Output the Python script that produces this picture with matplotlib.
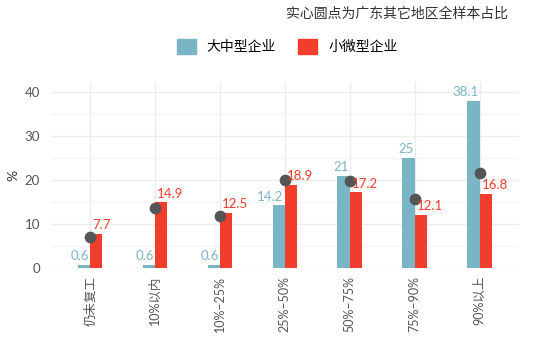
import matplotlib
matplotlib.use('Agg')
import matplotlib.pyplot as plt
import numpy as np
from matplotlib.patches import Patch

plt.rcParams['font.family'] = ['Lato', 'Noto Sans CJK SC', 'DejaVu Sans']

categories = ['仍未复工', '10%以内', '10%–25%', '25%–50%', '50%–75%', '75%–90%', '90%以上']
large_mid = [0.6, 0.6, 0.6, 14.2, 21, 25, 38.1]
small_micro = [7.7, 14.9, 12.5, 18.9, 17.2, 12.1, 16.8]
guangdong_other = [7.0, 13.6, 11.7, 20.0, 19.8, 15.6, 21.5]
series_names = ['大中型企业', '小微型企业']

teal = '#7ab5c6'
red = '#f03d2c'
grid_c = '#ececec'

fig = plt.figure(figsize=(5.5, 3.5), dpi=100)
ax = fig.add_axes([0.093, 0.235, 0.85, 0.53])

x = np.arange(len(categories))
w = 0.19
ax.bar(x - w / 2, large_mid, w, color=teal, zorder=2)
ax.bar(x + w / 2, small_micro, w, color=red, zorder=2)
ax.scatter(x, guangdong_other, s=55, color='#555555', zorder=4)

for xi, v in zip(x, large_mid):
    ax.text(xi - 0.02, v + 0.6, f'{v:g}', color=teal, ha='right', va='bottom', fontsize=9.5, zorder=5)
for xi, v in zip(x, small_micro):
    ax.text(xi + 0.03, v + 0.6, f'{v:g}', color=red, ha='left', va='bottom', fontsize=9.5, zorder=5)

ax.set_xlim(-0.6, 6.6)
ax.set_ylim(0, 42.3)
ax.set_yticks([0, 10, 20, 30, 40])
ax.set_yticks([5, 15, 25, 35], minor=True)
ax.set_xticks(x)
ax.set_xticklabels(categories, rotation=90, fontsize=9, color='#555555')
ax.tick_params(axis='y', labelsize=9.5, colors='#555555', length=0, pad=8)
ax.tick_params(axis='y', which='minor', length=0)
ax.tick_params(axis='x', length=0, pad=6)
ax.grid(True, which='major', color=grid_c, linewidth=1, zorder=0)
ax.grid(True, which='minor', axis='y', color='#f4f4f4', linewidth=1, zorder=0)
for s in ax.spines.values():
    s.set_visible(False)
ax.set_ylabel('%', fontsize=10, color='#333333', labelpad=4)

fig.text(0.924, 0.963, '实心圆点为广东其它地区全样本占比', ha='right', va='center',
         fontsize=10, color='#333333')

handles = [Patch(color=teal), Patch(color=red)]
fig.legend(handles, series_names, loc='center', bbox_to_anchor=(0.522, 0.868), ncol=2,
           frameon=False, fontsize=10, handlelength=1.35, handleheight=1.3,
           columnspacing=1.6, handletextpad=0.8)

fig.savefig('out.png', dpi=100)
